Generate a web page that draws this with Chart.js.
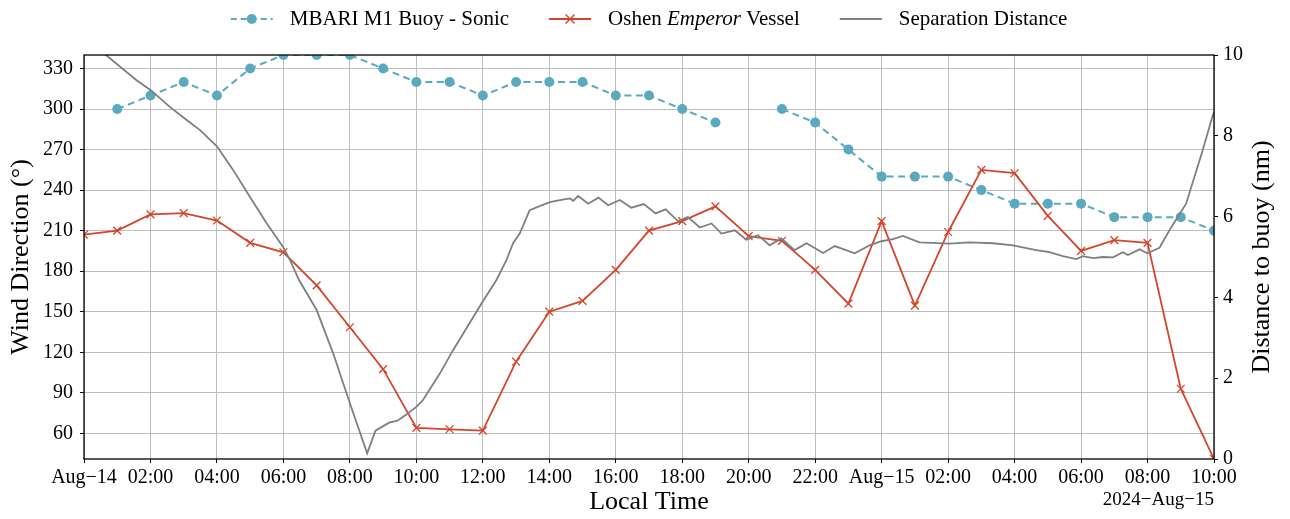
<!DOCTYPE html>
<html>
<head>
<meta charset="utf-8">
<title>Wind direction: MBARI M1 buoy vs Oshen Emperor</title>
<script src="https://cdn.jsdelivr.net/npm/chart.js@4.4.1/dist/chart.umd.min.js"></script>
<style>
  html, body { margin: 0; padding: 0; background: #ffffff; }
  #wrap { width: 1290px; height: 519px; position: relative; }
</style>
</head>
<body>
<div id="wrap"><canvas id="chart" width="1290" height="519"></canvas></div>
<script>
// Hours since 2024-Aug-14 00:00 local time (hourly samples)
const hours = [0, 1, 2, 3, 4, 5, 6, 7, 8, 9, 10, 11, 12, 13, 14, 15, 16, 17, 18, 19,
               20, 21, 22, 23, 24, 25, 26, 27, 28, 29, 30, 31, 32, 33, 34];

// MBARI M1 buoy sonic anemometer wind direction (degrees); null = no reading
const buoyDir = [null, 300, 310, 320, 310, 330, 340, 340, 340, 330, 320, 320, 310, 320, 320, 320, 310, 310, 300, 290,
                 null, 300, 290, 270, 250, 250, 250, 240, 230, 230, 230, 220, 220, 220, 210];

// Oshen Emperor vessel wind direction (degrees)
const vesselDir = [207, 210, 222, 223, 217.5, 201, 194, 169.5, 138.5, 107.5, 64, 63, 62, 113, 150, 158, 181, 210, 217, 228,
                   206, 202.5, 181, 156, 217, 154.5, 209, 255, 252.5, 221, 195, 203, 201, 93, 41];

// Separation distance between vessel and buoy (hours since Aug-14 00:00, nautical miles)
const sepHours = [0.00, 0.66, 1.59, 2.01, 2.59, 3.09, 3.49, 4.00, 4.49, 4.99, 5.50, 5.99, 6.20, 6.47, 7.00, 7.50,
                  8.00, 8.52, 8.77, 9.18, 9.43, 9.68, 10.00, 10.20, 10.71, 11.11, 11.96, 12.41, 12.71, 12.91, 13.11,
                  13.41, 13.71, 14.02, 14.32, 14.62, 14.72, 14.87, 15.17, 15.48, 15.77, 16.12, 16.47, 16.84, 17.20,
                  17.50, 17.87, 18.17, 18.53, 18.88, 19.18, 19.58, 19.93, 20.28, 20.63, 20.98, 21.38, 21.74, 22.24,
                  22.59, 23.19, 23.64, 23.99, 24.34, 24.64, 25.14, 26.05, 26.65, 27.35, 27.95, 28.65, 29.05, 29.45,
                  29.86, 30.05, 30.36, 30.66, 30.96, 31.26, 31.41, 31.76, 31.99, 32.36, 32.66, 33.16, 33.66, 33.95, 34.00];
const sepNm = [10.45, 10.00, 9.37, 9.13, 8.71, 8.39, 8.14, 7.74, 7.15, 6.49, 5.83, 5.25, 4.92, 4.43, 3.69, 2.61,
               1.38, 0.14, 0.70, 0.90, 0.95, 1.09, 1.29, 1.46, 2.12, 2.70, 3.85, 4.43, 4.92, 5.34, 5.58,
               6.16, 6.26, 6.36, 6.41, 6.45, 6.39, 6.51, 6.32, 6.47, 6.28, 6.41, 6.22, 6.31, 6.08,
               6.18, 5.89, 5.99, 5.73, 5.83, 5.58, 5.66, 5.43, 5.54, 5.29, 5.46, 5.17, 5.34, 5.10,
               5.27, 5.09, 5.29, 5.39, 5.44, 5.52, 5.36, 5.33, 5.36, 5.34, 5.29, 5.17, 5.12, 5.02,
               4.95, 5.02, 4.97, 5.00, 4.99, 5.12, 5.05, 5.19, 5.09, 5.23, 5.66, 6.32, 7.64, 8.47, 8.58];

// Axis tick values and labels
const xTickLabels = ['Aug\u221214', '02:00', '04:00', '06:00', '08:00', '10:00', '12:00', '14:00', '16:00',
                     '18:00', '20:00', '22:00', 'Aug\u221215', '02:00', '04:00', '06:00', '08:00', '10:00'];
const dirTicks = [60, 90, 120, 150, 180, 210, 240, 270, 300, 330];
const distTicks = [0, 2, 4, 6, 8, 10];
const dateOffsetLabel = '2024\u2212Aug\u221215';

const SERIF = "'Liberation Serif', 'DejaVu Serif', serif";
const TEAL = '#5ba9bf';
const RED = '#d5452b';
const GRAY = '#7f7f7f';
const GRID = '#bdbdbd';

// Legend entries: label split into [text, italic?] runs
const legendEntries = [
  { runs: [['MBARI M1 Buoy - Sonic', false]], color: TEAL, dash: [6, 4], marker: 'circle' },
  { runs: [['Oshen ', false], ['Emperor', true], [' Vessel', false]], color: RED, dash: [], marker: 'cross' },
  { runs: [['Separation Distance', false]], color: GRAY, dash: [], marker: null }
];

const decorations = {
  id: 'decorations',
  afterDraw(chart) {
    const { ctx, chartArea: a } = chart;
    ctx.save();

    // axes frame
    ctx.strokeStyle = '#000';
    ctx.lineWidth = 1.3;
    ctx.strokeRect(a.left, a.top, a.right - a.left, a.bottom - a.top);

    // date offset under the time axis
    ctx.fillStyle = '#000';
    ctx.font = '19px ' + SERIF;
    ctx.textAlign = 'right';
    ctx.textBaseline = 'alphabetic';
    ctx.fillText(dateOffsetLabel, a.right, 505);

    // right axis title, reading bottom to top
    ctx.save();
    ctx.translate(1262, (a.top + a.bottom) / 2);
    ctx.rotate(-Math.PI / 2);
    ctx.font = '26px ' + SERIF;
    ctx.textAlign = 'center';
    ctx.textBaseline = 'middle';
    ctx.fillText('Distance to buoy (nm)', 0, 0);
    ctx.restore();

    // legend across the top, centred on the plot
    const fontFor = (it) => (it ? 'italic ' : '') + '21px ' + SERIF;
    const handle = 42, gapText = 17, gapEntry = 40, y = 19;
    const widths = legendEntries.map(e => e.runs.reduce((s, r) => {
      ctx.font = fontFor(r[1]);
      return s + ctx.measureText(r[0]).width;
    }, 0));
    const total = widths.reduce((s, w) => s + handle + gapText + w, 0) + gapEntry * (legendEntries.length - 1);
    let x = (a.left + a.right) / 2 - total / 2;
    legendEntries.forEach((e, i) => {
      ctx.strokeStyle = e.color;
      ctx.lineWidth = 2;
      ctx.setLineDash(e.dash);
      ctx.beginPath();
      ctx.moveTo(x, y);
      ctx.lineTo(x + handle, y);
      ctx.stroke();
      ctx.setLineDash([]);
      const cx = x + handle / 2;
      if (e.marker === 'circle') {
        ctx.fillStyle = e.color;
        ctx.beginPath();
        ctx.arc(cx, y, 5, 0, Math.PI * 2);
        ctx.fill();
      } else if (e.marker === 'cross') {
        ctx.lineWidth = 1.4;
        ctx.beginPath();
        ctx.moveTo(cx - 4.5, y - 4.5); ctx.lineTo(cx + 4.5, y + 4.5);
        ctx.moveTo(cx - 4.5, y + 4.5); ctx.lineTo(cx + 4.5, y - 4.5);
        ctx.stroke();
      }
      let tx = x + handle + gapText;
      ctx.fillStyle = '#000';
      ctx.textAlign = 'left';
      ctx.textBaseline = 'middle';
      e.runs.forEach(r => {
        ctx.font = fontFor(r[1]);
        ctx.fillText(r[0], tx, y);
        tx += ctx.measureText(r[0]).width;
      });
      x += handle + gapText + widths[i] + gapEntry;
    });
    ctx.restore();
  }
};

new Chart(document.getElementById('chart'), {
  type: 'line',
  data: {
    datasets: [
      {
        label: 'Separation Distance',
        data: sepHours.map((h, i) => ({ x: h, y: sepNm[i] })),
        yAxisID: 'y2',
        borderColor: GRAY,
        borderWidth: 1.8,
        pointRadius: 0,
        tension: 0,
        clip: 0,
        order: 0
      },
      {
        label: 'Oshen Emperor Vessel',
        data: hours.map((h, i) => ({ x: h, y: vesselDir[i] })),
        yAxisID: 'y',
        borderColor: RED,
        backgroundColor: RED,
        borderWidth: 1.8,
        pointStyle: 'crossRot',
        pointRadius: 5.5,
        pointBorderWidth: 1.3,
        pointBorderColor: RED,
        tension: 0,
        clip: 0,
        order: 1
      },
      {
        label: 'MBARI M1 Buoy - Sonic',
        data: hours.map((h, i) => ({ x: h, y: buoyDir[i] })),
        yAxisID: 'y',
        borderColor: TEAL,
        backgroundColor: TEAL,
        borderWidth: 2,
        borderDash: [7, 4.5],
        pointStyle: 'circle',
        pointRadius: 5,
        pointBorderWidth: 0,
        spanGaps: false,
        tension: 0,
        clip: 0,
        order: 2
      }
    ]
  },
  options: {
    responsive: false,
    animation: false,
    devicePixelRatio: 1,
    layout: { padding: { top: 55, left: 0, right: 0, bottom: 0 } },
    plugins: {
      legend: { display: false },
      tooltip: { enabled: false }
    },
    scales: {
      x: {
        type: 'linear',
        min: 0,
        max: 34,
        afterBuildTicks: s => { s.ticks = xTickLabels.map((_, i) => ({ value: i * 2 })); },
        afterFit: s => { s.height = 60; },
        ticks: {
          autoSkip: false,
          maxRotation: 0,
          padding: 3,
          color: '#000',
          font: { family: SERIF, size: 20 },
          callback: v => xTickLabels[Math.round(v / 2)]
        },
        grid: { color: GRID, lineWidth: 1, tickLength: 4, tickColor: '#000', tickWidth: 1 },
        border: { display: false },
        title: {
          display: true,
          text: 'Local Time',
          color: '#000',
          font: { family: SERIF, size: 26 },
          padding: { top: 0, bottom: 1 }
        }
      },
      y: {
        position: 'left',
        min: 41,
        max: 340,
        afterBuildTicks: s => { s.ticks = dirTicks.map(v => ({ value: v })); },
        afterFit: s => { s.width = 84; },
        ticks: { padding: 7, color: '#000', font: { family: SERIF, size: 20 } },
        grid: { color: GRID, lineWidth: 1, tickLength: 4, tickColor: '#000', tickWidth: 1 },
        border: { display: false },
        title: {
          display: true,
          text: 'Wind Direction (\u00b0)',
          color: '#000',
          font: { family: SERIF, size: 26 },
          padding: { top: 6, bottom: 0 }
        }
      },
      y2: {
        position: 'right',
        min: 0,
        max: 10,
        afterBuildTicks: s => { s.ticks = distTicks.map(v => ({ value: v })); },
        afterFit: s => { s.width = 76; },
        ticks: { padding: 5, color: '#000', font: { family: SERIF, size: 20 } },
        grid: { drawOnChartArea: false, tickLength: 4, tickColor: '#000', tickWidth: 1 },
        border: { display: false }
      }
    }
  },
  plugins: [decorations]
});
</script>
</body>
</html>
